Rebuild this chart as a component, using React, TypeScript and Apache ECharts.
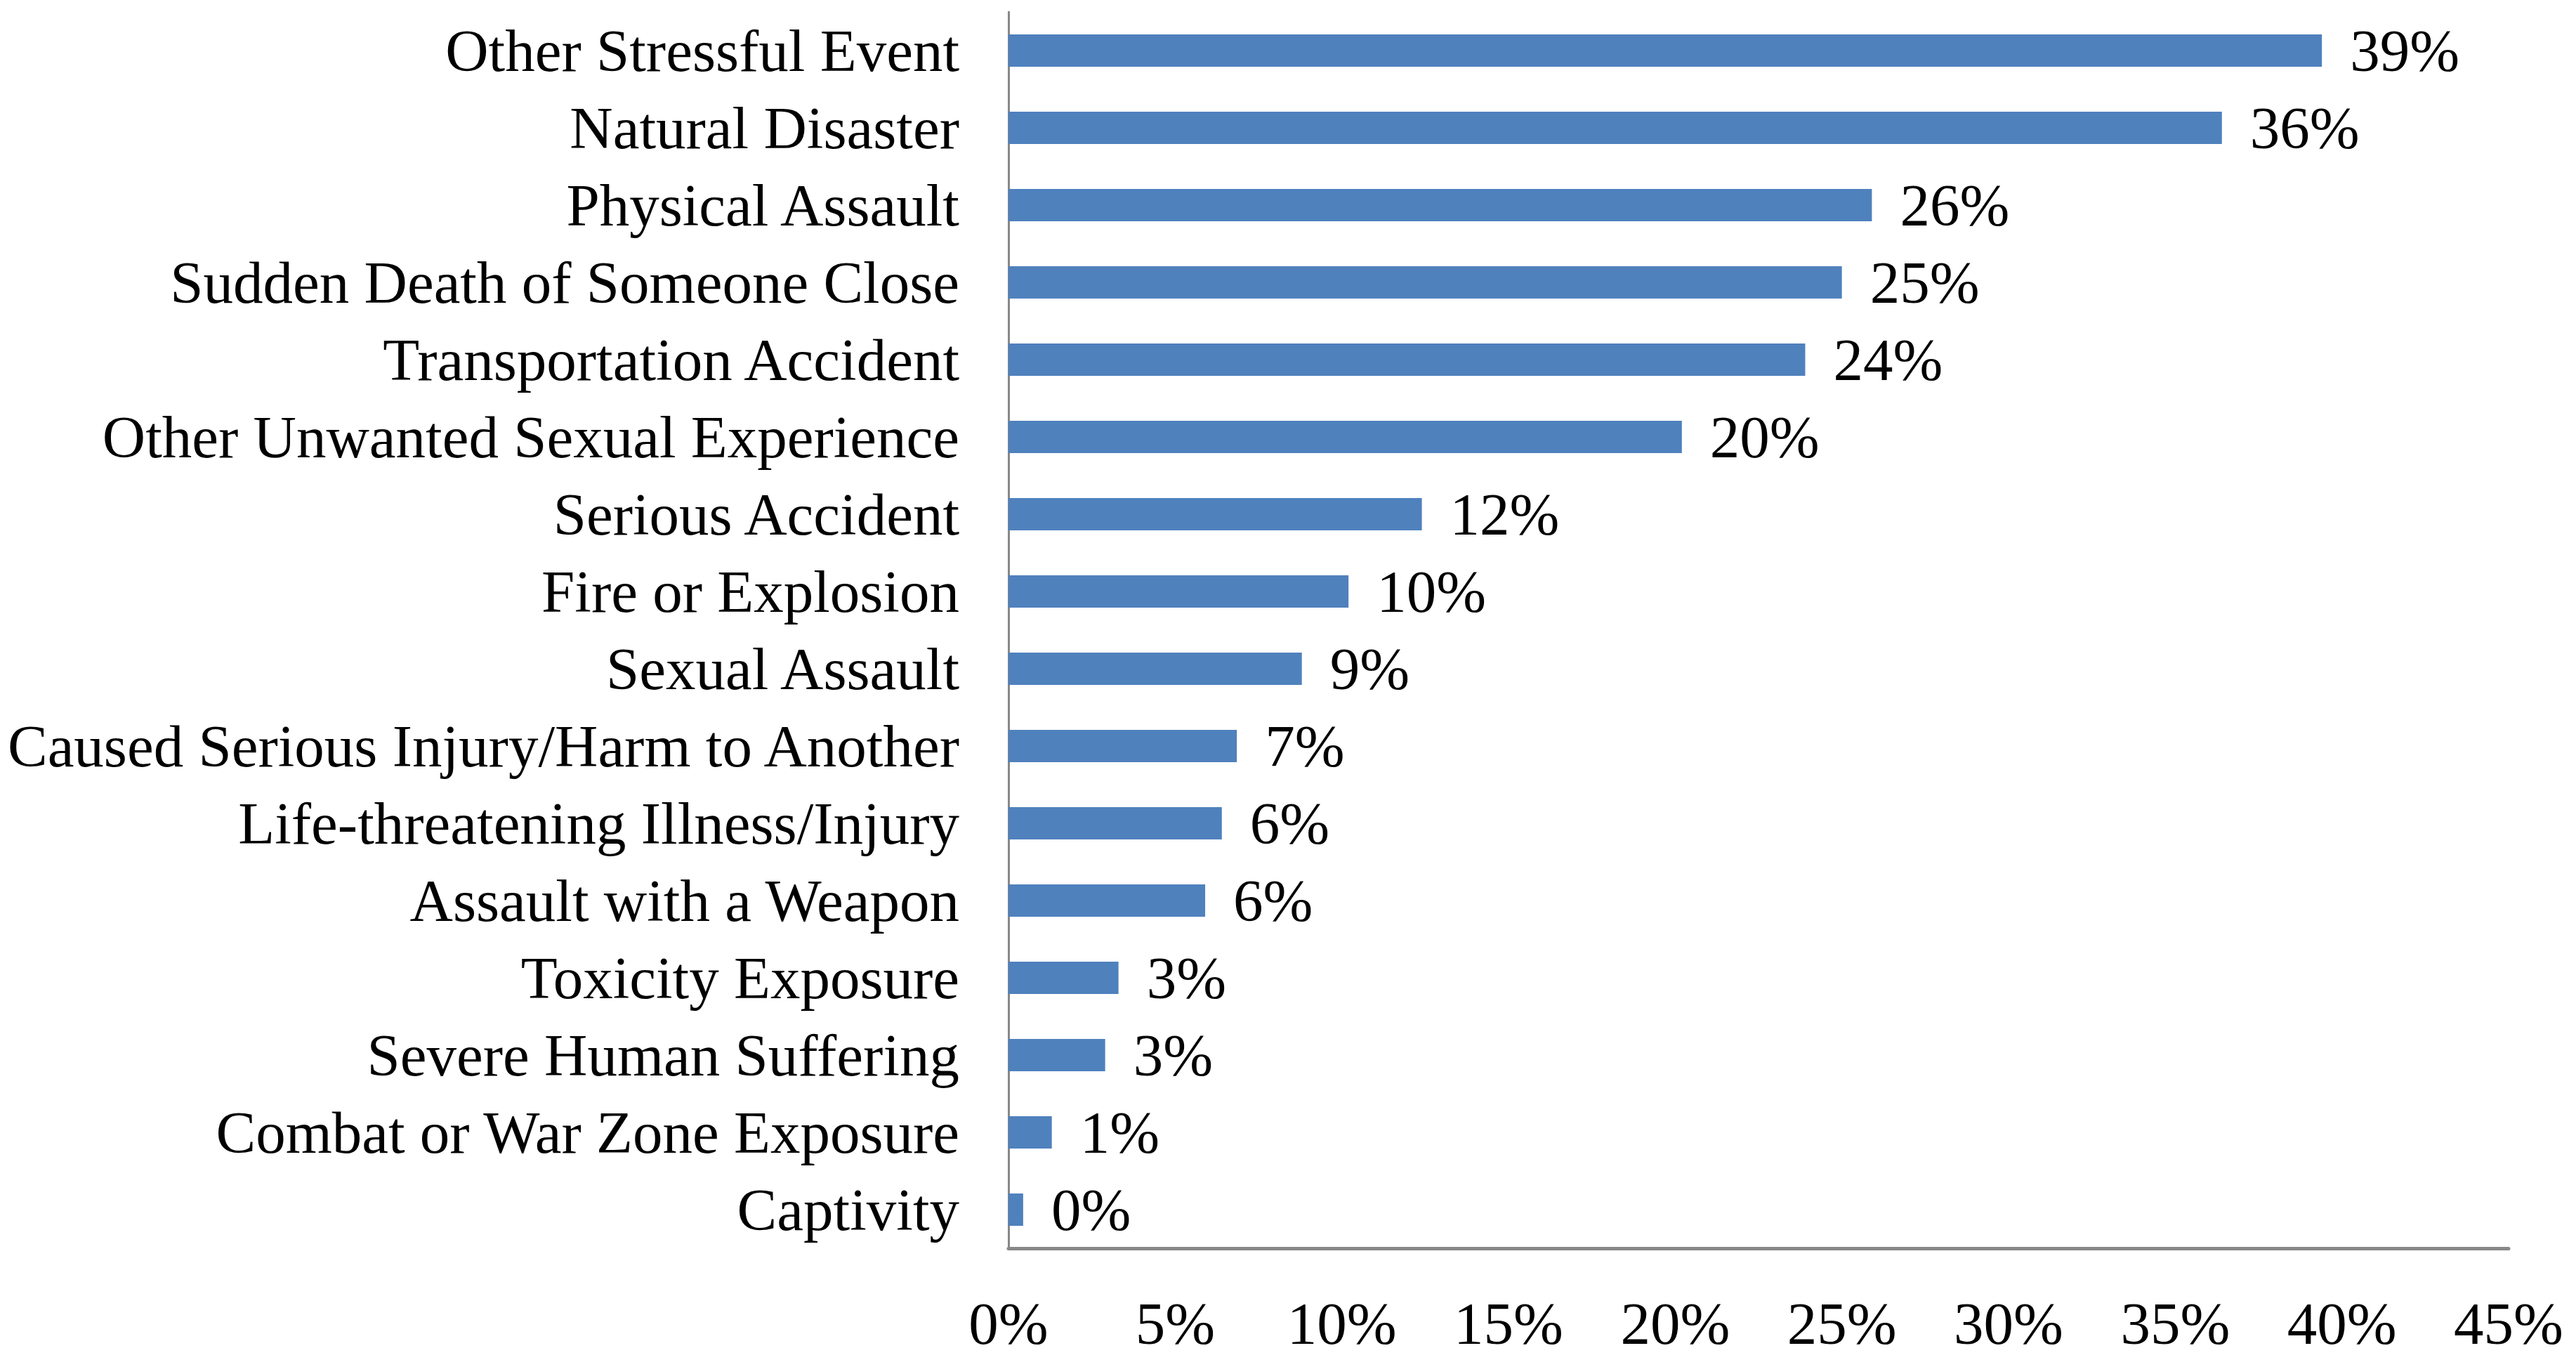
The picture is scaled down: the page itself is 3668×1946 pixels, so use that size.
import React, { useEffect, useRef } from "react";
import * as echarts from "echarts";

const categories = [
  "Other Stressful Event",
  "Natural Disaster",
  "Physical Assault",
  "Sudden Death of Someone Close",
  "Transportation Accident",
  "Other Unwanted Sexual Experience",
  "Serious Accident",
  "Fire or Explosion",
  "Sexual Assault",
  "Caused Serious Injury/Harm to Another",
  "Life-threatening Illness/Injury",
  "Assault with a Weapon",
  "Toxicity Exposure",
  "Severe Human Suffering",
  "Combat or War Zone Exposure",
  "Captivity",
];

const values = [39.4, 36.4, 25.9, 25.0, 23.9, 20.2, 12.4, 10.2, 8.8, 6.85, 6.4, 5.9, 3.3, 2.9, 1.3, 0.44];

const xMin = 0;
const xMax = 45;
const xInterval = 5;

const FONT = "'Liberation Serif', 'Times New Roman', 'DejaVu Serif', serif";

export default function App() {
  const ref = useRef<HTMLDivElement>(null);
  useEffect(() => {
    if (!ref.current) return;
    const chart = echarts.init(ref.current, null, { renderer: "svg" });
    chart.setOption({
      animation: false,
      backgroundColor: "#ffffff",
      grid: { left: 1436, right: 96, top: 17, bottom: 169, containLabel: false },
      xAxis: {
        type: "value",
        min: xMin,
        max: xMax,
        interval: xInterval,
        axisLine: { show: true, lineStyle: { color: "#888888", width: 5 } },
        axisTick: { show: false },
        splitLine: { show: false },
        axisLabel: {
          formatter: "{value}%",
          color: "#000000",
          fontFamily: FONT,
          fontSize: 85,
          margin: 64,
        },
      },
      yAxis: {
        type: "category",
        data: categories,
        inverse: true,
        axisLine: { show: true, lineStyle: { color: "#888888", width: 3 } },
        axisTick: { show: false },
        splitLine: { show: false },
        axisLabel: {
          interval: 0,
          color: "#000000",
          fontFamily: FONT,
          fontSize: 85,
          margin: 70,
        },
      },
      series: [
        {
          type: "bar",
          data: values,
          barWidth: "42%",
          itemStyle: { color: "#4F81BD" },
          label: {
            show: true,
            position: "right",
            distance: 40,
            color: "#000000",
            fontFamily: FONT,
            fontSize: 85,
            formatter: (p: any) => Math.round(p.value) + "%",
          },
        },
      ],
    });
    return () => chart.dispose();
  }, []);
  return (
    <div
      ref={ref}
      style={{ position: "absolute", left: 0, top: 0, width: 3668, height: 1946 }}
    />
  );
}
